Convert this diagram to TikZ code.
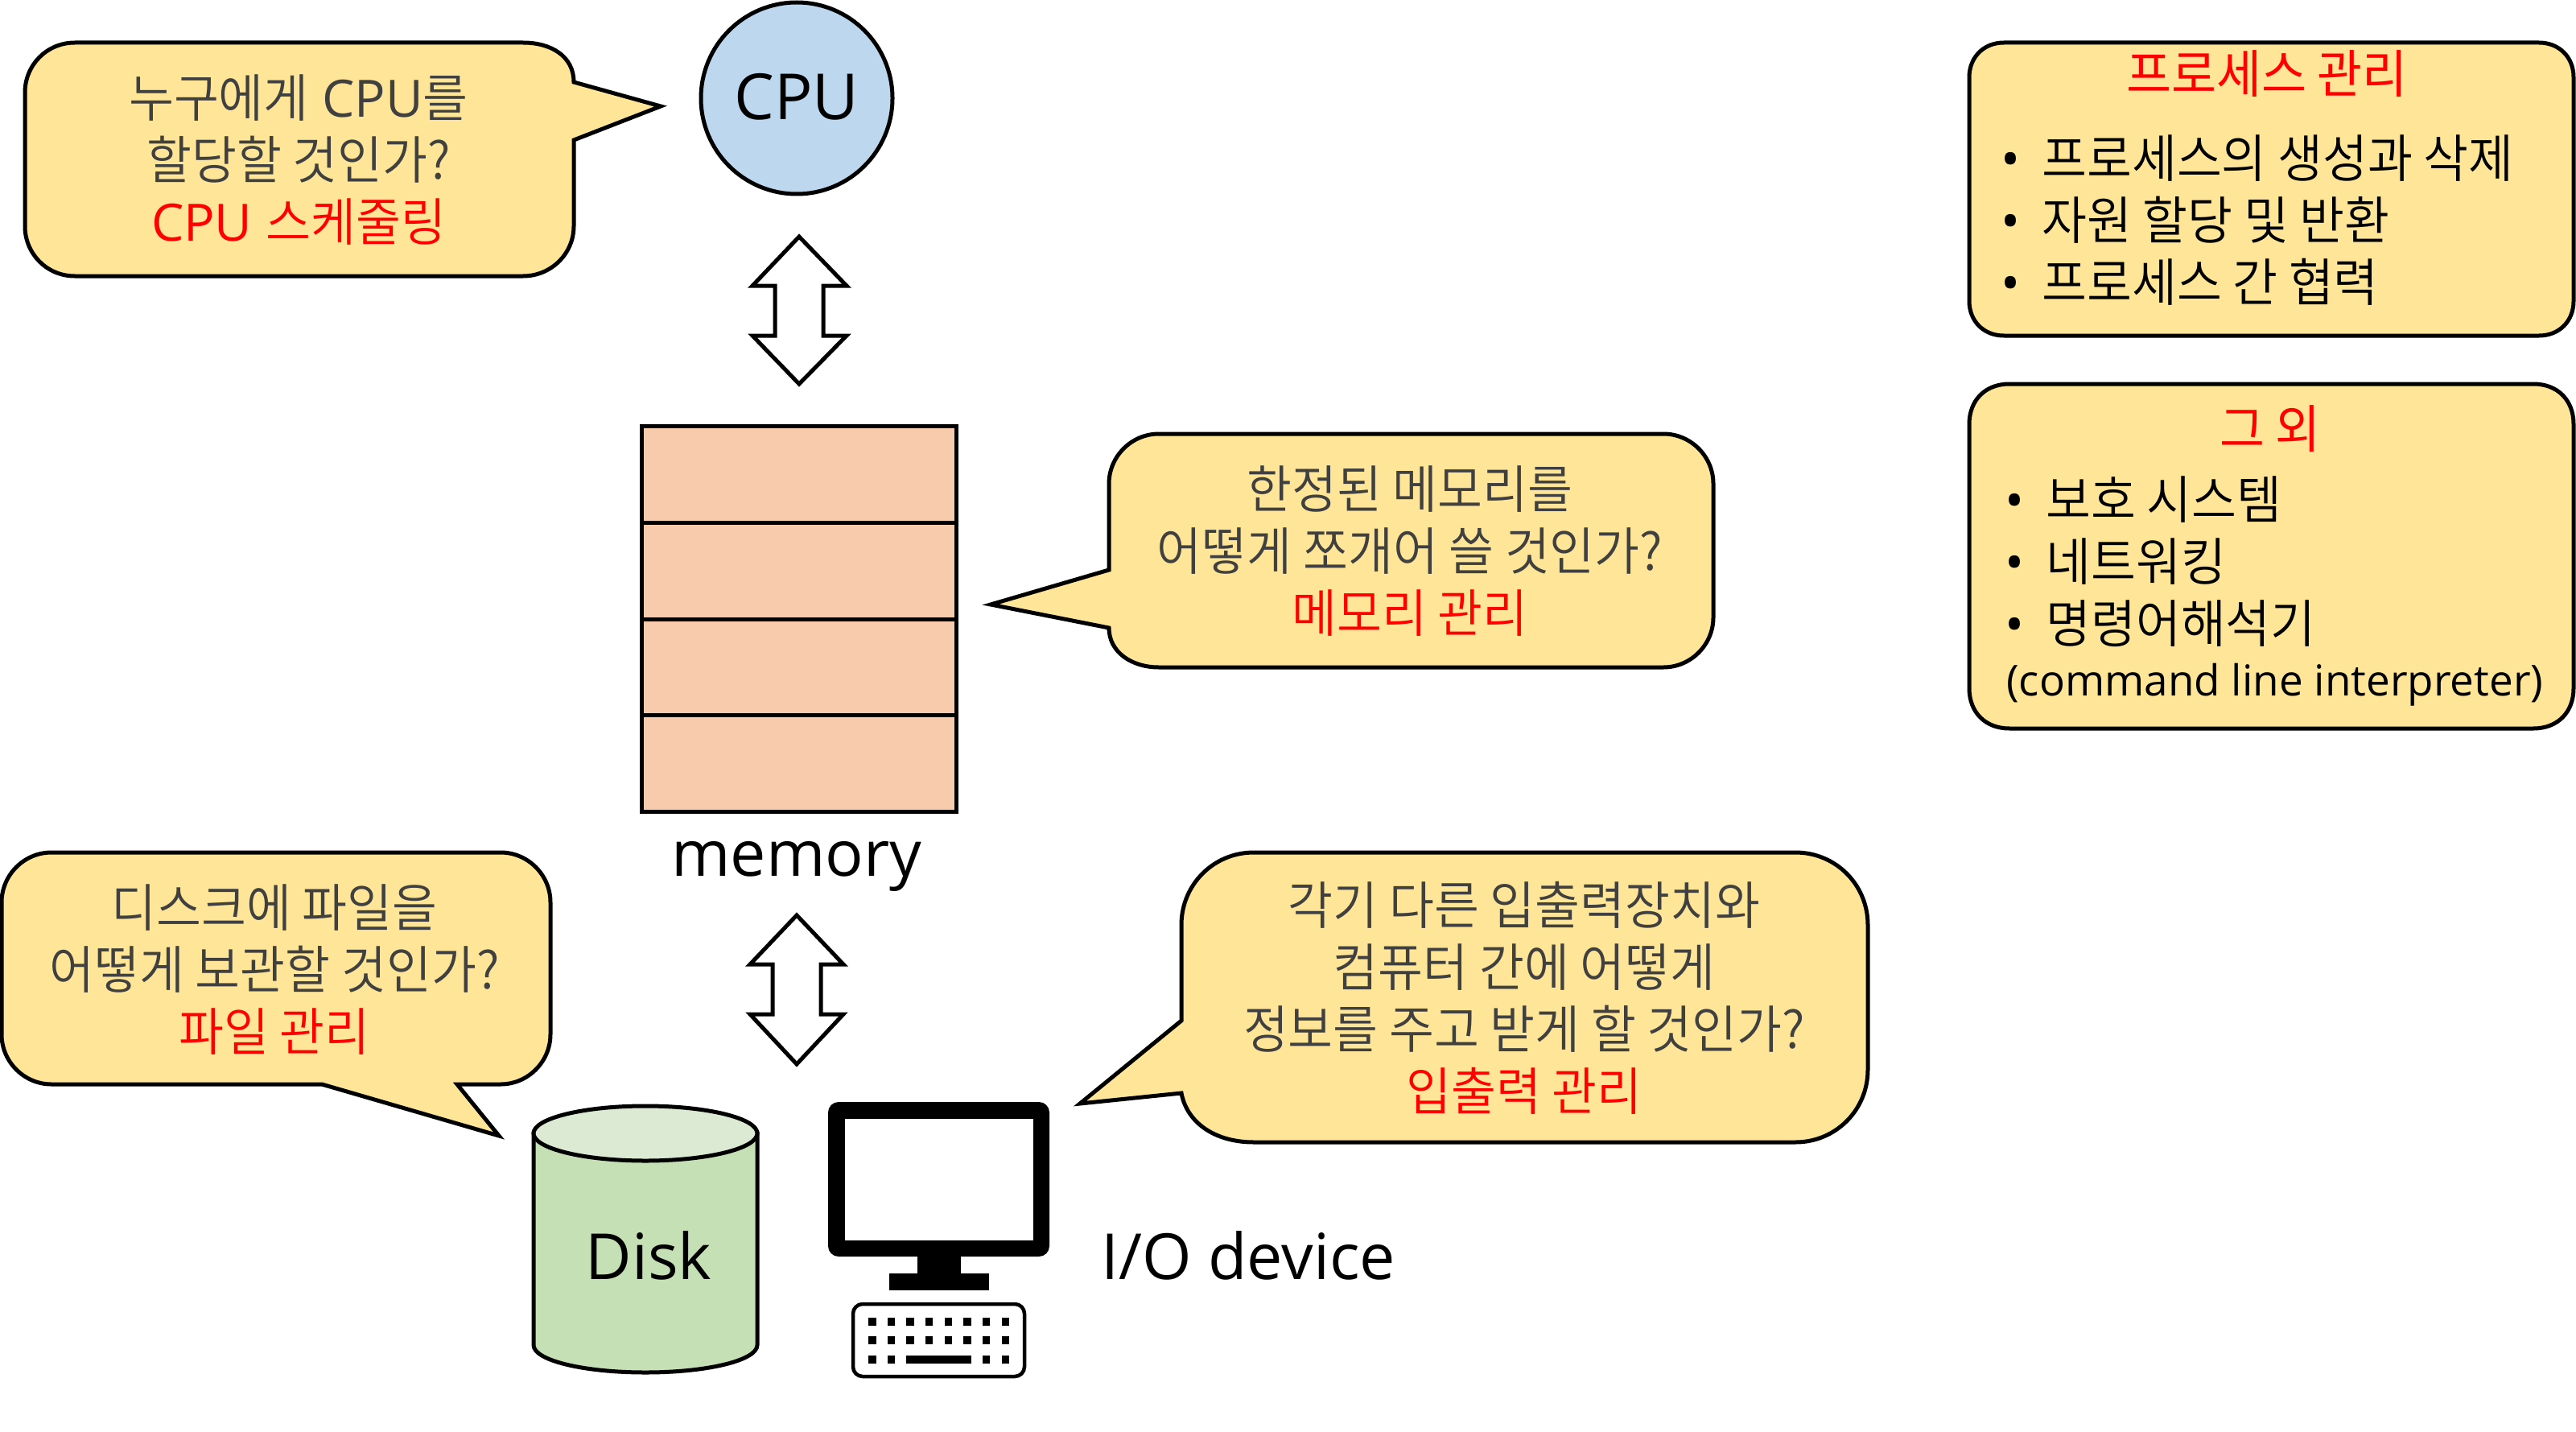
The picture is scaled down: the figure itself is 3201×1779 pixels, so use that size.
\documentclass[tikz,border=0pt]{standalone}
\usepackage{fontspec}
\setmainfont{Open Sans}
\newfontfamily\kr[FakeStretch=0.95]{Noto Sans CJK KR DemiLight}
\newfontfamily\krt[FakeStretch=0.95]{Noto Sans CJK KR}
\newcommand{\bubbletext}{\fontsize{64}{77}\selectfont}
\newcommand{\bignodetext}{\fontsize{79}{90}\selectfont}
\newcommand{\smalltext}{\fontsize{53}{70}\selectfont}
\newcommand{\bul}{\makebox[51pt][l]{•}}
\definecolor{calloutfill}{HTML}{FFE597}
\definecolor{calloutink}{HTML}{404040}
\definecolor{cpufill}{HTML}{BDD7EE}
\definecolor{memfill}{HTML}{F8CBAD}
\definecolor{diskbody}{HTML}{C5E0B4}
\definecolor{disktop}{HTML}{DCEAD3}
\tikzset{
  x=1pt,y=-1pt,
  outline/.style={draw=black,line width=5pt,line join=miter,miter limit=10},
  callout/.style={outline,fill=calloutfill},
  calltext/.style={font=\bubbletext,align=center,text=calloutink,inner sep=0pt},
  bigtext/.style={font=\bignodetext,inner sep=0pt},
  listtext/.style={font=\bubbletext,align=left,text=black,inner sep=0pt,anchor=west},
  titletext/.style={font={\bubbletext\krt},text=red,inner sep=0pt},
  blockarrow/.style={outline,fill=white,line width=5pt},
  key/.style={fill=black,draw=none}
}
\begin{document}
\begin{tikzpicture}
\useasboundingbox (0,0) rectangle (3201,1779);
% bubble 1
\draw[callout] (93,53) -- (650,53)
  .. controls (685,53) and (713,70) .. (713,102) -- (821,132) -- (713,174) -- (713,281)
  .. controls (713,315) and (685,343) .. (650,343) -- (93,343)
  .. controls (58,343) and (31,315) .. (31,281) -- (31,115)
  .. controls (31,81) and (58,53) .. (93,53) -- cycle;
\node[calltext] (b1) at (371,199) {{\kr 누구에게} CPU{\kr 를}\\{\kr 할당할 것인가?}\\\textcolor{red}{CPU {\kr 스케줄링}}};
% CPU
\node[outline,fill=cpufill,circle,minimum size=238pt,inner sep=0pt,font=\bignodetext] (cpu) at (990,122) {\raisebox{4pt}{CPU}};
% arrow 1
\draw[blockarrow] (993,294) -- (1052,355) -- (1023,355) -- (1023,417) -- (1052,417) -- (993,477) -- (935,417) -- (963,417) -- (963,355) -- (935,355) -- cycle;
% memory
\draw[outline,fill=memfill] (797,529) rectangle (1188,1008);
\draw[outline] (797,649) -- (1188,649);
\draw[outline] (797,769) -- (1188,769);
\draw[outline] (797,888) -- (1188,888);
\node[bigtext] (mem) at (990,1076) {memory};
% bubble 2
\draw[callout] (1440,539) -- (2067,539)
  .. controls (2101,539) and (2129,567) .. (2129,601) -- (2129,767)
  .. controls (2129,801) and (2101,829) .. (2067,829) -- (1440,829)
  .. controls (1406,829) and (1378,810) .. (1378,780) -- (1231,751) -- (1378,708) -- (1378,601)
  .. controls (1378,567) and (1406,539) .. (1440,539) -- cycle;
\node[calltext] (b2) at (1752,685) {{\kr 한정된 메모리를}\\{\kr 어떻게 쪼개어 쓸 것인가?}\\\textcolor{red}{\kr 메모리 관리}};
% arrow 2
\draw[blockarrow] (990,1137) -- (1048,1198) -- (1020,1198) -- (1020,1260) -- (1048,1260) -- (990,1322) -- (932,1260) -- (960,1260) -- (960,1198) -- (932,1198) -- cycle;
% bubble 3
\draw[callout] (64,1059) -- (622,1059)
  .. controls (656,1059) and (684,1087) .. (684,1121) -- (684,1285)
  .. controls (684,1319) and (656,1347) .. (622,1347) -- (568,1347) -- (620,1411) -- (400,1347) -- (64,1347)
  .. controls (30,1347) and (2,1319) .. (2,1285) -- (2,1121)
  .. controls (2,1087) and (30,1059) .. (64,1059) -- cycle;
\node[calltext] (b3) at (341,1205) {{\kr 디스크에 파일을}\\{\kr 어떻게 보관할 것인가?}\\\textcolor{red}{\kr 파일 관리}};
% bubble 4
\draw[callout] (1558,1059) -- (2231,1059)
  .. controls (2281,1059) and (2321,1099) .. (2321,1149) -- (2321,1329)
  .. controls (2321,1379) and (2281,1419) .. (2231,1419) -- (1558,1419)
  .. controls (1510,1419) and (1475,1395) .. (1468,1358) -- (1342,1371) -- (1468,1268) -- (1468,1149)
  .. controls (1468,1099) and (1508,1059) .. (1558,1059) -- cycle;
\node[calltext] (b4) at (1894,1240) {{\kr 각기 다른 입출력장치와}\\{\kr 컴퓨터 간에 어떻게}\\{\kr 정보를 주고 받게 할 것인가?}\\\textcolor{red}{\kr 입출력 관리}};
% disk
\draw[outline,fill=diskbody] (663,1408) -- (663,1671)
  .. controls (663,1690) and (725,1705) .. (802,1705)
  .. controls (879,1705) and (941,1690) .. (941,1671) -- (941,1408) -- cycle;
\draw[outline,fill=disktop] (802,1408) ellipse [x radius=139,y radius=34];
\node[bigtext] (disk) at (806,1560) {Disk};
% monitor
\fill[black,rounded corners=13pt] (1029,1369) rectangle (1304,1561);
\fill[white] (1050,1390) rectangle (1284,1541);
\fill[black] (1140,1555) rectangle (1194,1582);
\fill[black] (1105,1582) rectangle (1229,1603);
% keyboard
\draw[line width=4.5pt,rounded corners=12pt,fill=white] (1060,1620) rectangle (1273,1710);
\foreach \i in {0,...,7} {
  \fill[key] (1079+\i*23.65,1637) rectangle +(9.5,9.5);
  \fill[key] (1079+\i*23.65,1660.3) rectangle +(9.5,9.5);
}
\foreach \i in {0,1,6,7} {
  \fill[key] (1079+\i*23.65,1684) rectangle +(9.5,9.5);
}
\fill[key] (1126,1684) rectangle (1207,1693.5);
\node[bigtext,anchor=west] (io) at (1368,1560) {I/O device};
% top-right box
\draw[callout] (2490,53) -- (3155,53)
  .. controls (3180,53) and (3198,71) .. (3198,96) -- (3198,374)
  .. controls (3198,399) and (3180,417) .. (3155,417) -- (2490,417)
  .. controls (2465,417) and (2447,399) .. (2447,374) -- (2447,96)
  .. controls (2447,71) and (2465,53) .. (2490,53) -- cycle;
\node[titletext] (t1) at (2817,92) {프로세스 관리};
\node[listtext] (l1) at (2486,274) {\bul{\kr 프로세스의 생성과 삭제}\\\bul{\kr 자원 할당 및 반환}\\\bul{\kr 프로세스 간 협력}};
% lower-right box
\draw[callout] (2497,477) -- (3148,477)
  .. controls (3178,477) and (3198,497) .. (3198,527) -- (3198,855)
  .. controls (3198,885) and (3178,905) .. (3148,905) -- (2497,905)
  .. controls (2467,905) and (2447,885) .. (2447,855) -- (2447,527)
  .. controls (2447,497) and (2467,477) .. (2497,477) -- cycle;
\node[titletext] (t2) at (2821,533) {그 외};
\node[listtext] (l2) at (2491,698) {\bul{\kr 보호 시스템}\\\bul{\kr 네트워킹}\\\bul{\kr 명령어해석기}};
\node[font=\smalltext,anchor=west,inner sep=0pt] (l3) at (2493,851) {(command line interpreter)};
\end{tikzpicture}
\end{document}
